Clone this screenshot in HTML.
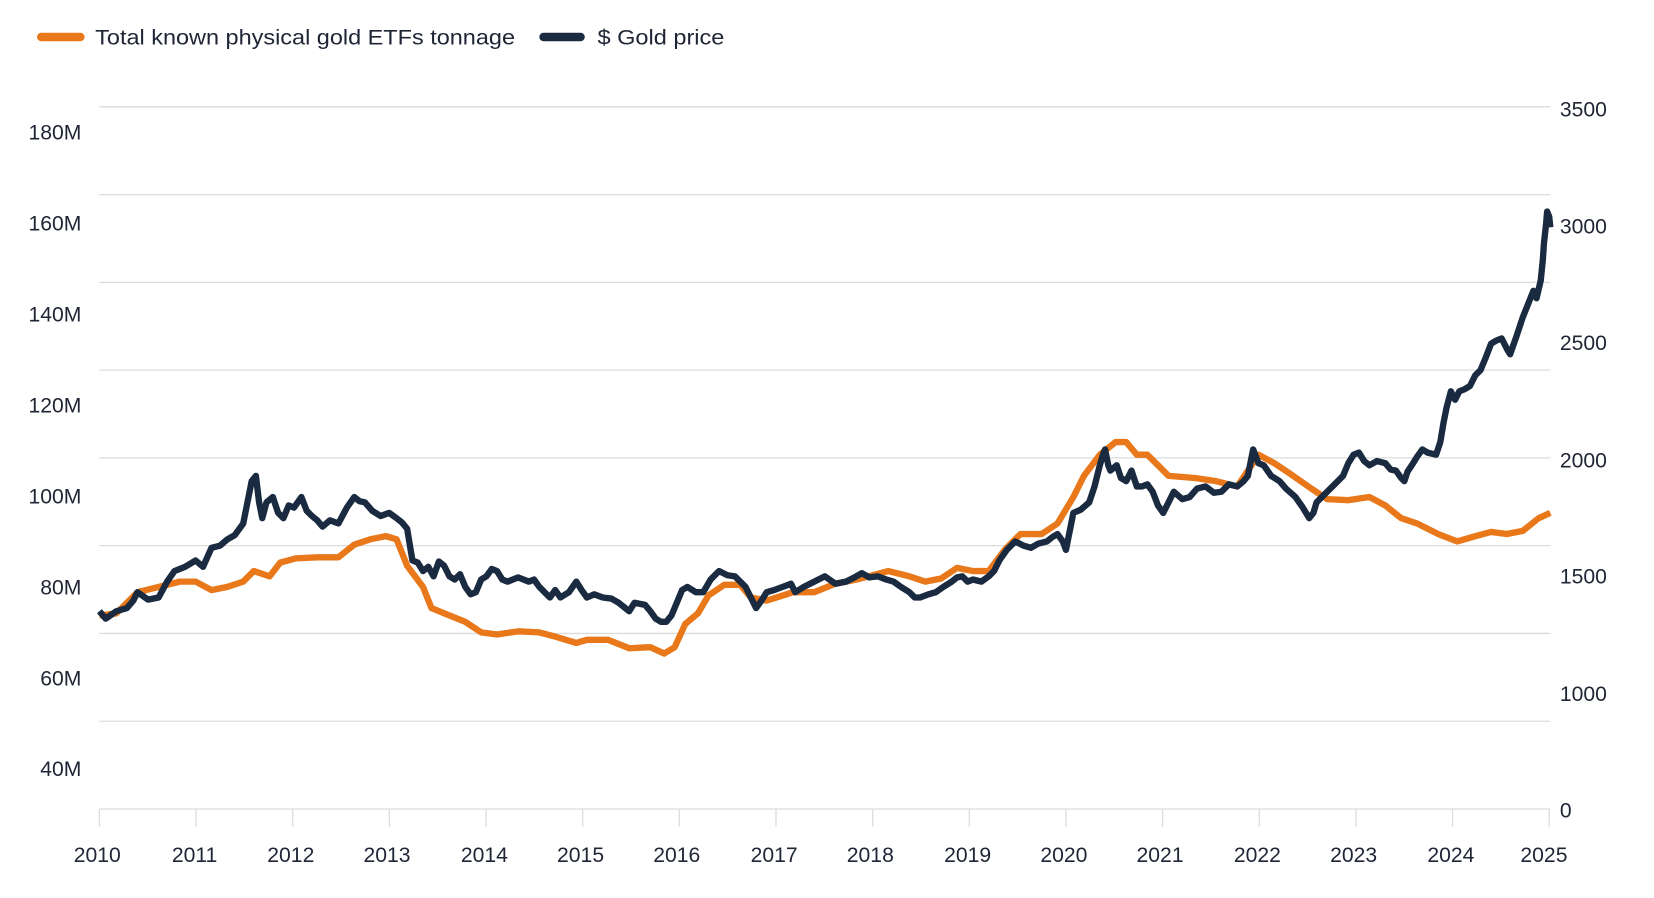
<!DOCTYPE html>
<html><head><meta charset="utf-8"><style>
body{margin:0;background:#fff;width:1654px;height:893px;overflow:hidden}
svg{font-family:"Liberation Sans",sans-serif}
</style></head><body>
<svg width="1654" height="893" viewBox="0 0 1654 893">
<g transform="scale(1.0575)">
<g stroke="#dcdcdc" stroke-width="1.2">
<line x1="94" x2="1466" y1="101" y2="101"/><line x1="94" x2="1466" y1="184" y2="184"/>
<line x1="94" x2="1466" y1="267" y2="267"/><line x1="94" x2="1466" y1="350" y2="350"/>
<line x1="94" x2="1466" y1="433" y2="433"/><line x1="94" x2="1466" y1="516" y2="516"/>
<line x1="94" x2="1466" y1="599" y2="599"/><line x1="94" x2="1466" y1="682" y2="682"/>
<line x1="94" x2="1466" y1="765" y2="765"/>
<line x1="94" x2="94" y1="765" y2="782"/><line x1="185.4" x2="185.4" y1="765" y2="782"/>
<line x1="276.8" x2="276.8" y1="765" y2="782"/><line x1="368.2" x2="368.2" y1="765" y2="782"/>
<line x1="459.6" x2="459.6" y1="765" y2="782"/><line x1="551" x2="551" y1="765" y2="782"/>
<line x1="642.4" x2="642.4" y1="765" y2="782"/><line x1="733.8" x2="733.8" y1="765" y2="782"/>
<line x1="825.2" x2="825.2" y1="765" y2="782"/><line x1="916.6" x2="916.6" y1="765" y2="782"/>
<line x1="1008" x2="1008" y1="765" y2="782"/><line x1="1099.4" x2="1099.4" y1="765" y2="782"/>
<line x1="1190.8" x2="1190.8" y1="765" y2="782"/><line x1="1282.2" x2="1282.2" y1="765" y2="782"/>
<line x1="1373.6" x2="1373.6" y1="765" y2="782"/><line x1="1465" x2="1465" y1="765" y2="782"/>
</g>
<g fill="#1f2535" font-size="20">
<g text-anchor="end">
<text x="77" y="132">180M</text><text x="77" y="218">160M</text><text x="77" y="304">140M</text>
<text x="77" y="390">120M</text><text x="77" y="476">100M</text><text x="77" y="562">80M</text>
<text x="77" y="648">60M</text><text x="77" y="734">40M</text>
</g>
<g text-anchor="start">
<text x="1475" y="110">3500</text><text x="1475" y="221">3000</text><text x="1475" y="331">2500</text>
<text x="1475" y="442">2000</text><text x="1475" y="552">1500</text><text x="1475" y="663">1000</text>
<text x="1475" y="773">0</text>
</g>
<g text-anchor="middle">
<text x="92" y="815">2010</text><text x="184" y="815">2011</text><text x="275" y="815">2012</text>
<text x="366" y="815">2013</text><text x="458" y="815">2014</text><text x="549" y="815">2015</text>
<text x="640" y="815">2016</text><text x="732" y="815">2017</text><text x="823" y="815">2018</text>
<text x="915" y="815">2019</text><text x="1006" y="815">2020</text><text x="1097" y="815">2021</text>
<text x="1189" y="815">2022</text><text x="1280" y="815">2023</text><text x="1372" y="815">2024</text>
<text x="1460" y="815">2025</text>
</g>
<text x="90" y="42" textLength="397" lengthAdjust="spacingAndGlyphs">Total known physical gold ETFs tonnage</text>
<text x="565" y="42" textLength="120" lengthAdjust="spacingAndGlyphs">$ Gold price</text>
</g>
<line x1="39" x2="76" y1="35" y2="35" stroke="#e8781a" stroke-width="8" stroke-linecap="round"/>
<line x1="514" x2="549" y1="35" y2="35" stroke="#1a2a40" stroke-width="8" stroke-linecap="round"/>
<polyline fill="none" stroke="#e8781a" stroke-width="6" stroke-linejoin="round" points="94,582 110,580 130,560 150,555 170,550 185,550 200,558 215,555 230,550 240,540 255,545 265,532 280,528 300,527 320,527 335,515 350,510 365,507 375,510 385,535 400,555 408,575 420,580 440,588 455,598 470,600 490,597 510,598 525,602 545,608 555,605 575,605 595,613 615,612 628,618 638,612 648,590 660,580 670,563 685,553 700,553 710,565 725,568 750,560 770,560 790,552 810,548 840,540 860,545 875,550 890,547 905,537 920,540 935,540 950,520 965,505 985,505 1000,495 1015,470 1025,450 1040,430 1055,418 1065,418 1075,430 1085,430 1095,440 1105,450 1130,452 1150,455 1170,460 1190,430 1205,438 1220,448 1240,462 1255,472 1275,473 1295,470 1310,478 1325,490 1340,495 1360,505 1378,512 1395,507 1410,503 1425,505 1440,502 1455,490 1466,485"/>
<polyline fill="none" stroke="#1a2a40" stroke-width="6" stroke-linejoin="round" points="94,578 100,585 110,578 120,575 126,568 130,560 140,567 150,565 158,550 165,540 175,536 185,530 192,536 200,518 208,516 215,510 222,506 230,495 234,475 238,455 242,450 245,475 248,490 252,475 258,470 263,485 268,490 273,478 278,480 285,470 290,483 295,488 300,492 305,498 312,492 320,495 328,480 335,470 340,474 345,475 352,483 360,488 368,485 375,490 380,494 385,500 390,530 395,532 400,540 405,536 410,545 415,531 420,535 425,545 430,548 435,543 440,555 445,562 450,560 455,548 460,545 465,538 470,540 475,548 480,550 490,546 500,550 505,548 510,555 515,560 520,565 525,558 530,565 538,560 545,550 550,558 555,565 562,562 570,565 578,566 585,570 590,574 595,578 600,570 610,572 615,578 620,585 625,588 630,588 635,582 640,570 645,558 650,555 658,560 665,560 672,548 680,540 688,544 695,545 700,550 705,555 710,565 715,575 720,568 725,560 732,558 740,555 748,552 752,560 760,555 770,550 780,545 790,552 800,550 808,546 815,542 822,546 830,545 838,548 845,550 852,555 860,560 865,565 870,565 878,562 885,560 892,555 900,550 905,546 910,545 915,550 920,548 928,550 935,545 940,540 945,530 952,520 960,512 968,516 975,518 982,514 990,512 995,508 1000,505 1005,512 1008,520 1012,500 1015,485 1022,482 1030,475 1035,460 1040,440 1043,430 1045,425 1048,440 1050,445 1056,440 1060,452 1065,455 1070,445 1075,460 1080,460 1085,458 1090,465 1095,478 1100,485 1105,475 1110,465 1118,472 1125,470 1132,462 1140,460 1148,466 1155,465 1162,458 1170,460 1176,455 1180,450 1183,435 1185,425 1190,438 1195,440 1202,450 1210,455 1216,462 1225,470 1232,480 1238,490 1242,485 1245,475 1250,470 1255,465 1262,458 1270,450 1275,438 1280,430 1285,428 1290,436 1295,440 1302,436 1310,438 1315,444 1320,445 1325,452 1328,455 1331,446 1335,440 1340,432 1345,425 1350,428 1358,430 1362,418 1365,400 1368,385 1372,370 1376,378 1380,370 1385,368 1390,365 1395,355 1400,350 1405,338 1410,325 1415,322 1420,320 1425,330 1428,335 1434,318 1440,300 1444,290 1450,275 1453,282 1457,265 1459,245 1460,230 1462,212 1463,200 1465,205 1466,215"/>
</g>
</svg>
</body></html>
